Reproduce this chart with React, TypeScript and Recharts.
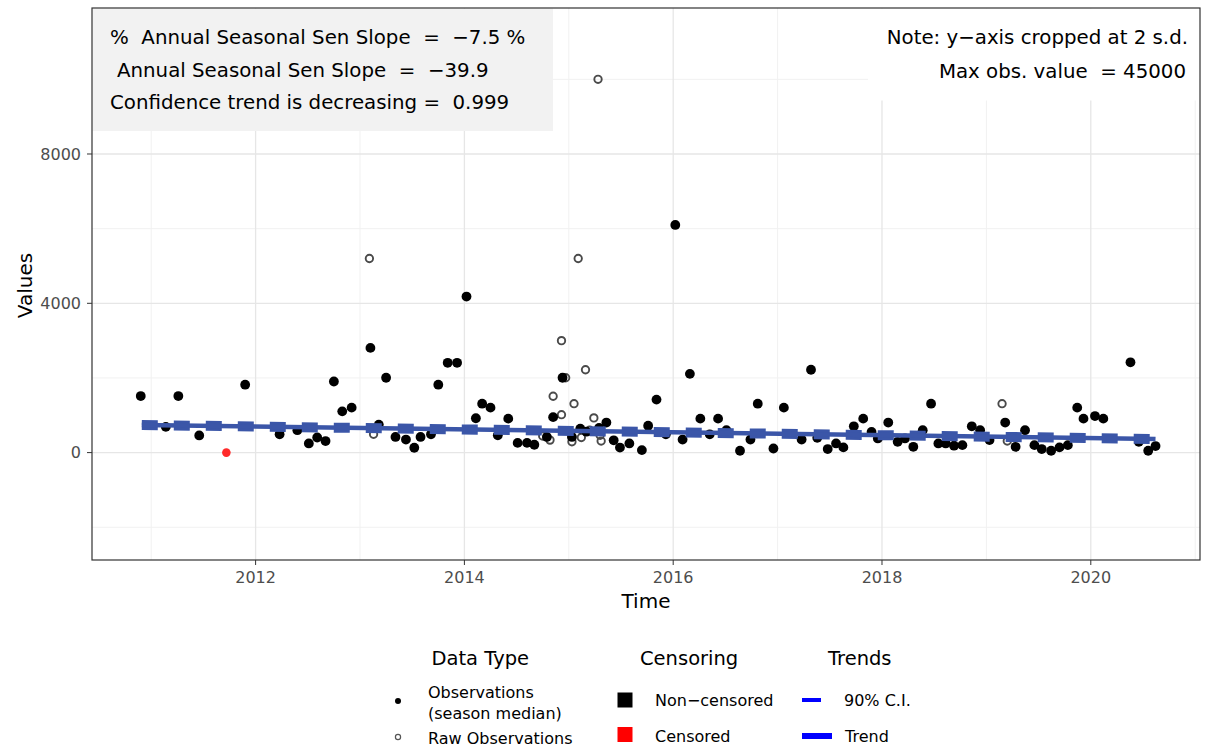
import React from 'react';
import { ScatterChart, Scatter, XAxis, YAxis, CartesianGrid } from 'recharts';

// season medians (non-censored)
const obsTimes = [
  2010.90, 2011.14, 2011.26, 2011.46, 2011.90, 2012.23, 2012.40, 2012.51, 2012.59, 2012.67,
  2012.75, 2012.83, 2012.92, 2013.10, 2013.18, 2013.25, 2013.34, 2013.44, 2013.52, 2013.58,
  2013.68, 2013.75, 2013.84, 2013.93, 2014.02, 2014.11, 2014.17, 2014.25, 2014.32, 2014.42,
  2014.51, 2014.60, 2014.67, 2014.79, 2014.85, 2014.94, 2015.03, 2015.11, 2015.17, 2015.29,
  2015.36, 2015.43, 2015.49, 2015.58, 2015.70, 2015.76, 2015.84, 2015.93, 2016.02, 2016.09,
  2016.16, 2016.26, 2016.35, 2016.43, 2016.51, 2016.64, 2016.74, 2016.81, 2016.96, 2017.06,
  2017.23, 2017.32, 2017.38, 2017.48, 2017.56, 2017.63, 2017.73, 2017.82, 2017.90, 2017.96,
  2018.06, 2018.15, 2018.22, 2018.30, 2018.39, 2018.47, 2018.54, 2018.61, 2018.69, 2018.77,
  2018.86, 2018.94, 2019.03, 2019.18, 2019.28, 2019.37, 2019.46, 2019.53, 2019.62, 2019.70,
  2019.78, 2019.87, 2019.93, 2020.04, 2020.12, 2020.38, 2020.46, 2020.55, 2020.62,
];
const obsValues = [
  1515, 690, 1515, 460, 1820, 490, 600, 245, 405, 310,
  1905, 1105, 1205, 2805, 750, 2005, 420, 350, 130, 420,
  490, 1820, 2405, 2405, 4180, 920, 1310, 1205, 465, 910,
  260, 260, 210, 420, 950, 2005, 420, 640, 560, 660,
  805, 330, 135, 245, 67, 720, 1420, 490, 6100, 350,
  2110, 910, 490, 910, 600, 50, 350, 1310, 110, 1205,
  350, 2220, 395, 95, 245, 140, 705, 910, 555, 380,
  805, 290, 380, 155, 600, 1310, 245, 245, 185, 200,
  705, 600, 335, 805, 155, 600, 200, 95, 50, 140,
  200, 1205, 910, 980, 910, 2420, 290, 50, 175,
];

// raw observations (open circles)
const rawTimes = [
  2013.09, 2013.13, 2014.75, 2014.82, 2014.85, 2014.93, 2014.93, 2014.97, 2015.03, 2015.05,
  2015.09, 2015.12, 2015.16, 2015.20, 2015.24, 2015.28, 2015.30, 2015.31, 2019.15, 2019.20,
];
const rawValues = [
  5200, 490, 445, 335, 1510, 1015, 3000, 2005, 290, 1310,
  5200, 405, 2220, 600, 930, 10000, 465, 310, 1310, 310,
];

const censoredTimes = [2011.72];
const censoredValues = [0];

// trend and 90% C.I.
const trendTimes = [2010.91, 2020.62];
const trendValues = [740, 365];
const ciLowerValues = [673, 298];
const ciUpperValues = [807, 432];

const xTicks = [2012, 2014, 2016, 2018, 2020];
const xMinor = [2011, 2013, 2015, 2017, 2019, 2021];
const yTicks = [0, 4000, 8000];
const yMinor = [-2000, 2000, 6000, 10000];

const toPoints = (ts: number[], vs: number[]) => ts.map((t, i) => ({ t, v: vs[i] }));

const obsData = toPoints(obsTimes, obsValues);
const rawData = toPoints(rawTimes, rawValues);
const censoredData = toPoints(censoredTimes, censoredValues);
const trendData = toPoints(trendTimes, trendValues);
const ciLowerData = toPoints(trendTimes, ciLowerValues);
const ciUpperData = toPoints(trendTimes, ciUpperValues);

const FONT = 'DejaVu Sans';
const TREND = '#3b56a8';

const ObsDot = (p: any) => <circle cx={p.cx} cy={p.cy} r={4.9} fill="#000" />;
const RawRing = (p: any) => (
  <circle cx={p.cx} cy={p.cy} r={3.7} fill="none" stroke="#4a4a4a" strokeWidth={1.9} />
);
const CensDot = (p: any) => <circle cx={p.cx} cy={p.cy} r={4.3} fill="#ff2a2a" />;
const NoShape = () => <g />;

export default function App() {
  const txt = { fontFamily: FONT, whiteSpace: 'pre' as const };
  return (
    <div style={{ position: 'absolute', left: 0, top: 0, width: 1206, height: 749, background: '#fff' }}>
      <div style={{ position: 'absolute', left: 0, top: 0 }}>
        <ScatterChart width={1206} height={749} margin={{ top: 8, right: 6, bottom: 159, left: 0 }}>
          <CartesianGrid horizontalValues={yMinor} verticalValues={xMinor} stroke="#f1f1f1" strokeWidth={1} />
          <CartesianGrid horizontalValues={yTicks} verticalValues={xTicks} stroke="#e6e6e6" strokeWidth={1.3} />
          <XAxis
            type="number"
            dataKey="t"
            domain={[2010.433, 2021.046]}
            ticks={xTicks}
            allowDataOverflow
            height={30}
            tickSize={5}
            tickMargin={7}
            axisLine={false}
            tickLine={{ stroke: '#333' }}
            tick={{ fill: '#4d4d4d', fontSize: 16, fontFamily: FONT }}
          />
          <YAxis
            type="number"
            dataKey="v"
            domain={[-2877, 11911]}
            ticks={yTicks}
            allowDataOverflow
            width={92}
            tickSize={5}
            tickMargin={6}
            axisLine={false}
            tickLine={{ stroke: '#333' }}
            tick={{ fill: '#4d4d4d', fontSize: 16, fontFamily: FONT }}
          />
          <Scatter data={rawData} shape={RawRing} isAnimationActive={false} />
          <Scatter data={obsData} shape={ObsDot} isAnimationActive={false} />
          <Scatter data={censoredData} shape={CensDot} isAnimationActive={false} />
          <Scatter
            data={ciLowerData}
            shape={NoShape}
            line={{ stroke: TREND, strokeWidth: 5, strokeDasharray: '16 16' }}
            isAnimationActive={false}
          />
          <Scatter
            data={ciUpperData}
            shape={NoShape}
            line={{ stroke: TREND, strokeWidth: 5, strokeDasharray: '16 16' }}
            isAnimationActive={false}
          />
          <Scatter
            data={trendData}
            shape={NoShape}
            line={{ stroke: TREND, strokeWidth: 4.5 }}
            isAnimationActive={false}
          />
        </ScatterChart>
      </div>
      <svg width={1206} height={749} style={{ position: 'absolute', left: 0, top: 0, pointerEvents: 'none' }}>
        {/* annotation boxes */}
        <rect x={92.5} y={8.5} width={460.5} height={122.5} fill="#f2f2f2" />
        <rect x={868} y={8.5} width={331.5} height={92} fill="#fff" />
        <rect x={92} y={8} width={1108} height={552} fill="none" stroke="#333" strokeWidth={1.2} />

        <text x={110} y={43.5} fontSize={19.8} fill="#000" style={txt}>%  Annual Seasonal Sen Slope  =  −7.5 %</text>
        <text x={117} y={77} fontSize={19.8} fill="#000" style={txt}>Annual Seasonal Sen Slope  =  −39.9</text>
        <text x={110} y={108.5} fontSize={19.8} fill="#000" style={txt}>Confidence trend is decreasing =  0.999</text>

        <text x={1188} y={44} fontSize={19.8} fill="#000" textAnchor="end" style={txt}>Note: y−axis cropped at 2 s.d.</text>
        <text x={1186} y={77.5} fontSize={19.8} fill="#000" textAnchor="end" style={txt}>Max obs. value  = 45000</text>

        {/* axis titles */}
        <text x={646} y={608} fontSize={20} fill="#000" textAnchor="middle" style={txt}>Time</text>
        <text x={31.5} y={285.5} fontSize={20} fill="#000" textAnchor="middle" transform="rotate(-90 31.5 285.5)" style={txt}>Values</text>

        {/* legend */}
        <text x={431.5} y={665} fontSize={19.5} fill="#000" style={txt}>Data Type</text>
        <text x={640} y={665} fontSize={19.5} fill="#000" style={txt}>Censoring</text>
        <text x={828} y={665} fontSize={19.5} fill="#000" style={txt}>Trends</text>

        <circle cx={398} cy={701} r={3} fill="#000" />
        <text x={428} y={697.5} fontSize={16} fill="#000" style={txt}>Observations</text>
        <text x={428} y={718.5} fontSize={16} fill="#000" style={txt}>(season median)</text>
        <circle cx={398} cy={737} r={2.6} fill="none" stroke="#555" strokeWidth={1.2} />
        <text x={428} y={744} fontSize={16} fill="#000" style={txt}>Raw Observations</text>

        <rect x={617.5} y={692.5} width={15} height={15} fill="#000" />
        <text x={655} y={706} fontSize={16} fill="#000" style={txt}>Non−censored</text>
        <rect x={617.5} y={727} width={15} height={15} fill="#ff0000" />
        <text x={655} y={742} fontSize={16} fill="#000" style={txt}>Censored</text>

        <rect x={802} y={698} width={19} height={4} fill="#0000ff" />
        <text x={844} y={706} fontSize={16} fill="#000" style={txt}>90% C.I.</text>
        <rect x={802} y={733} width={30} height={6} fill="#0000ff" />
        <text x={845} y={742} fontSize={16} fill="#000" style={txt}>Trend</text>
      </svg>
    </div>
  );
}
